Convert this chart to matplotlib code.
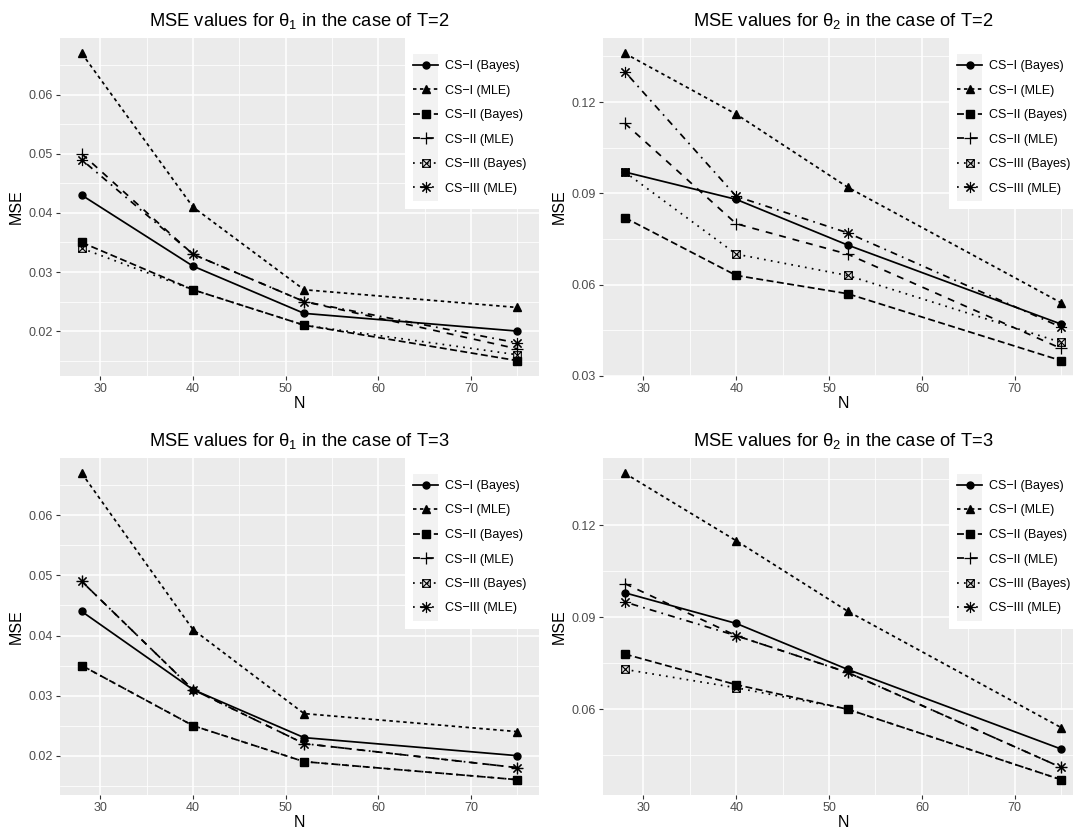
import matplotlib
matplotlib.use("Agg")
import matplotlib.pyplot as plt
from matplotlib.patches import Rectangle
from matplotlib.path import Path
from matplotlib.ticker import MultipleLocator, FormatStrFormatter
from matplotlib.transforms import IdentityTransform

plt.rcParams["font.family"] = ["Liberation Sans", "DejaVu Sans"]
plt.rcParams["mathtext.fontset"] = "custom"
plt.rcParams["mathtext.rm"] = "Liberation Sans"
plt.rcParams["mathtext.it"] = "Liberation Sans"
plt.rcParams["mathtext.bf"] = "Liberation Sans:bold"

N = [28, 40, 52, 75]
labels = ["CS\u2212I (Bayes)", "CS\u2212I (MLE)", "CS\u2212II (Bayes)",
          "CS\u2212II (MLE)", "CS\u2212III (Bayes)", "CS\u2212III (MLE)"]

# theta_1, T=2
t1_T2_cs1_bayes = [0.043, 0.031, 0.023, 0.020]
t1_T2_cs1_mle = [0.067, 0.041, 0.027, 0.024]
t1_T2_cs2_bayes = [0.035, 0.027, 0.021, 0.015]
t1_T2_cs2_mle = [0.050, 0.033, 0.025, 0.017]
t1_T2_cs3_bayes = [0.034, 0.027, 0.021, 0.016]
t1_T2_cs3_mle = [0.049, 0.033, 0.025, 0.018]

# theta_2, T=2
t2_T2_cs1_bayes = [0.097, 0.088, 0.073, 0.047]
t2_T2_cs1_mle = [0.136, 0.116, 0.092, 0.054]
t2_T2_cs2_bayes = [0.082, 0.063, 0.057, 0.035]
t2_T2_cs2_mle = [0.113, 0.080, 0.070, 0.039]
t2_T2_cs3_bayes = [0.097, 0.070, 0.063, 0.041]
t2_T2_cs3_mle = [0.130, 0.089, 0.077, 0.046]

# theta_1, T=3
t1_T3_cs1_bayes = [0.044, 0.031, 0.023, 0.020]
t1_T3_cs1_mle = [0.067, 0.041, 0.027, 0.024]
t1_T3_cs2_bayes = [0.035, 0.025, 0.019, 0.016]
t1_T3_cs2_mle = [0.049, 0.031, 0.022, 0.018]
t1_T3_cs3_bayes = [0.035, 0.025, 0.019, 0.016]
t1_T3_cs3_mle = [0.049, 0.031, 0.022, 0.018]

# theta_2, T=3
t2_T3_cs1_bayes = [0.098, 0.088, 0.073, 0.047]
t2_T3_cs1_mle = [0.137, 0.115, 0.092, 0.054]
t2_T3_cs2_bayes = [0.078, 0.068, 0.060, 0.037]
t2_T3_cs2_mle = [0.101, 0.084, 0.072, 0.041]
t2_T3_cs3_bayes = [0.073, 0.067, 0.060, 0.037]
t2_T3_cs3_mle = [0.095, 0.084, 0.072, 0.041]

# square with a cross inside (ggplot shape 7)
SQUARE_CROSS = Path(
    [(-1, -1), (1, -1), (1, 1), (-1, 1), (-1, -1),
     (-1, -1), (1, 1), (-1, 1), (1, -1)],
    [Path.MOVETO, Path.LINETO, Path.LINETO, Path.LINETO, Path.CLOSEPOLY,
     Path.MOVETO, Path.LINETO, Path.MOVETO, Path.LINETO])

STYLES = [
    dict(linestyle="-", marker="o", markersize=5),
    dict(linestyle=(0, (2, 2)), marker="^", markersize=6),
    dict(linestyle=(0, (4, 2)), marker="s", markersize=5.5),
    dict(linestyle=(0, (4, 4)), marker="+", markersize=8, markeredgewidth=0.9),
    dict(linestyle=(0, (1, 3)), marker=SQUARE_CROSS, markersize=5.5,
         markerfacecolor="none", markeredgewidth=0.8),
    dict(linestyle=(0, (1, 3, 4, 3)), marker=(8, 2, 0), markersize=8,
         markeredgewidth=0.8),
]

PANEL_BG = "#EBEBEB"
FIG_W, FIG_H = 1073, 831
LEG_FS = 9
LEG_SPACING = 1.0
LEG_HANDLE = 2.0


def draw_panel(fig, rect_px, title, series, ystep):
    left, top, right, bottom = rect_px
    ax = fig.add_axes([left / FIG_W, 1 - bottom / FIG_H,
                       (right - left) / FIG_W, (bottom - top) / FIG_H])
    ax.set_facecolor(PANEL_BG)
    for s in ax.spines.values():
        s.set_visible(False)

    for values, label, style in zip(series, labels, STYLES):
        ax.plot(N, values, color="black", linewidth=1.25, label=label,
                markeredgecolor="black", **style)

    ax.margins(x=0.05, y=0.05)
    ax.xaxis.set_major_locator(MultipleLocator(10))
    ax.xaxis.set_minor_locator(MultipleLocator(5))
    ax.yaxis.set_major_locator(MultipleLocator(ystep))
    ax.yaxis.set_minor_locator(MultipleLocator(ystep / 2))
    ax.yaxis.set_major_formatter(FormatStrFormatter("%.2f"))
    ax.grid(which="major", color="white", linewidth=1.1)
    ax.grid(which="minor", color="white", linewidth=0.55)
    ax.set_axisbelow(True)
    ax.tick_params(which="major", length=3.2, width=0.8, color="#333333",
                   labelcolor="#4D4D4D", labelsize=9, pad=2)
    ax.tick_params(which="minor", length=0)

    ax.set_title(title, fontsize=13.2, pad=9)
    ax.set_xlabel("N", fontsize=11.5, labelpad=0.5)
    ax.set_ylabel("MSE", fontsize=11.5, labelpad=3)

    w_px = right - left
    h_px = bottom - top
    leg = ax.legend(loc="upper left",
                    bbox_to_anchor=(1 - 126 / w_px, 1 - 22 / h_px),
                    frameon=False, borderpad=0, borderaxespad=0,
                    fontsize=LEG_FS, handlelength=LEG_HANDLE,
                    handletextpad=0.55, labelspacing=LEG_SPACING)
    return ax, leg


def add_legend_background(fig, ax, leg):
    renderer = fig.canvas.get_renderer()
    bb = leg.get_window_extent(renderer)
    fs_px = LEG_FS * fig.dpi / 72
    gap = LEG_SPACING * fs_px
    key_w = LEG_HANDLE * fs_px
    gx0 = bb.x0
    gy0 = bb.y0 - gap / 2
    gy1 = bb.y1 + gap / 2
    ax_bb = ax.get_window_extent(renderer)

    white = Rectangle((gx0 - 8.5, gy0 - 8), ax_bb.x1 - gx0 + 8.5,
                      ax_bb.y1 - gy0 + 8, facecolor="white", edgecolor="none",
                      transform=IdentityTransform(), zorder=4.8)
    gray = Rectangle((gx0, gy0), key_w, gy1 - gy0, facecolor="#F2F2F2",
                     edgecolor="none", transform=IdentityTransform(), zorder=4.9)
    ax.add_artist(white)
    ax.add_artist(gray)


def main():
    fig = plt.figure(figsize=(FIG_W / 100, FIG_H / 100), dpi=100)

    panels = [
        ((60, 38, 539, 376), r"MSE values for $\theta_1$ in the case of T=2",
         [t1_T2_cs1_bayes, t1_T2_cs1_mle, t1_T2_cs2_bayes,
          t1_T2_cs2_mle, t1_T2_cs3_bayes, t1_T2_cs3_mle], 0.01),
        ((603, 38, 1083, 376), r"MSE values for $\theta_2$ in the case of T=2",
         [t2_T2_cs1_bayes, t2_T2_cs1_mle, t2_T2_cs2_bayes,
          t2_T2_cs2_mle, t2_T2_cs3_bayes, t2_T2_cs3_mle], 0.03),
        ((60, 458, 539, 795), r"MSE values for $\theta_1$ in the case of T=3",
         [t1_T3_cs1_bayes, t1_T3_cs1_mle, t1_T3_cs2_bayes,
          t1_T3_cs2_mle, t1_T3_cs3_bayes, t1_T3_cs3_mle], 0.01),
        ((603, 458, 1083, 795), r"MSE values for $\theta_2$ in the case of T=3",
         [t2_T3_cs1_bayes, t2_T3_cs1_mle, t2_T3_cs2_bayes,
          t2_T3_cs2_mle, t2_T3_cs3_bayes, t2_T3_cs3_mle], 0.03),
    ]

    drawn = [draw_panel(fig, *p) for p in panels]
    fig.canvas.draw()
    for ax, leg in drawn:
        add_legend_background(fig, ax, leg)

    fig.savefig("out.png", dpi=100)
    plt.close(fig)


if __name__ == "__main__":
    main()
